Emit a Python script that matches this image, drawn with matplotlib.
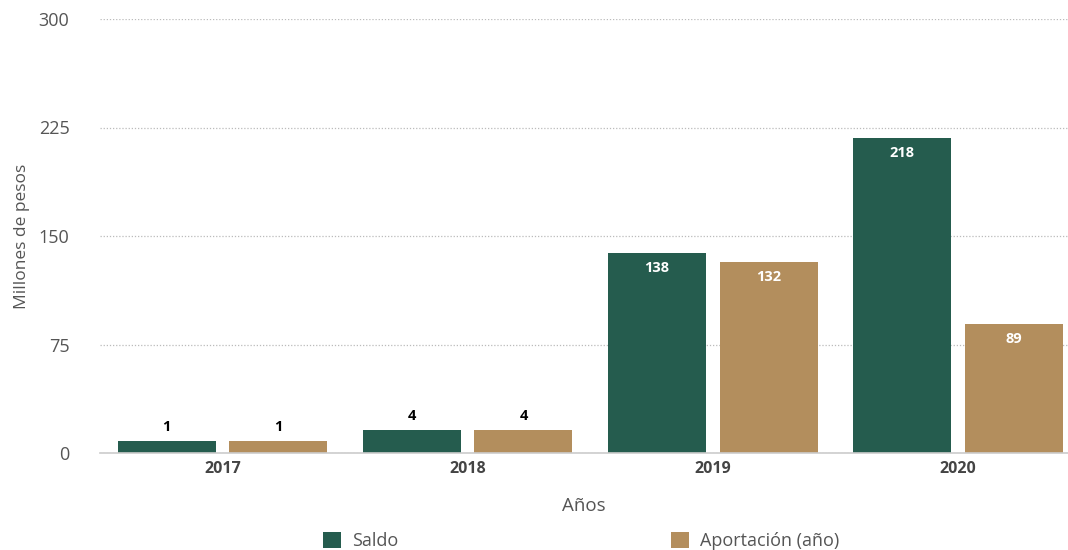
import numpy as np
import matplotlib
matplotlib.use('Agg')
import matplotlib.pyplot as plt

years = ['2017', '2018', '2019', '2020']
saldo = [1, 4, 138, 218]
aportacion = [1, 4, 132, 89]
# bar heights as drawn in the picture (small values shown with a minimum length)
saldo_bar = [8, 16, 138, 218]
aportacion_bar = [8, 16, 132, 89]
yticks = [0, 75, 150, 225, 300]

verde = '#255C4E'
dorado = '#B38E5D'

plt.rcParams['font.family'] = ['Open Sans', 'DejaVu Sans']

fig = plt.figure(figsize=(10.68, 5.5), dpi=100)
ax = fig.add_axes([100/1068, 97/550, 968/1068, 434/550])

x = np.arange(len(years))
w = 0.4
off = 0.228
b1 = ax.bar(x - off, saldo_bar, w, color=verde, zorder=3)
b2 = ax.bar(x + off, aportacion_bar, w, color=dorado, zorder=3)

for bars, vals in [(b1, saldo), (b2, aportacion)]:
    for r, v in zip(bars, vals):
        cx = r.get_x() + r.get_width()/2
        h = r.get_height()
        if h > 40:
            ax.text(cx, h - 5.5, str(v), ha='center', va='top', color='white',
                    fontsize=10.5, fontweight='bold', zorder=4)
        else:
            ax.text(cx, h + 5, str(v), ha='center', va='bottom', color='black',
                    fontsize=10.5, fontweight='bold', zorder=4)

ax.set_xlim(-0.5, 3.45)
ax.set_ylim(0, 300)
ax.set_yticks(yticks)
ax.set_xticks(x)
ax.set_xticklabels(years, fontweight='bold', fontsize=11.5, color='#444444')
ax.tick_params(axis='y', length=0, pad=22, labelsize=13, labelcolor='#555555')
ax.tick_params(axis='x', length=0, pad=6)
ax.grid(axis='y', linestyle=(0, (1, 1.5)), color='#bbbbbb', linewidth=0.9, zorder=0)
for s in ['top', 'right', 'left']:
    ax.spines[s].set_visible(False)
ax.spines['bottom'].set_color('#cccccc')
ax.spines['bottom'].set_linewidth(1.2)
ax.spines['bottom'].set_zorder(5)

ax.set_xlabel('Años', fontsize=13.5, color='#555555', labelpad=14)
ax.set_ylabel('Millones de pesos', fontsize=12.5, color='#555555', labelpad=6)

leg = fig.legend([b1, b2], ['Saldo', 'Aportación (año)'], loc='center',
                 bbox_to_anchor=(581/1068, 1 - 541/550), ncol=2, frameon=False,
                 fontsize=13, handlelength=1.0, handleheight=1.0,
                 handletextpad=0.6, columnspacing=15.1, labelcolor='#555555')

fig.savefig('out.png', dpi=100)
